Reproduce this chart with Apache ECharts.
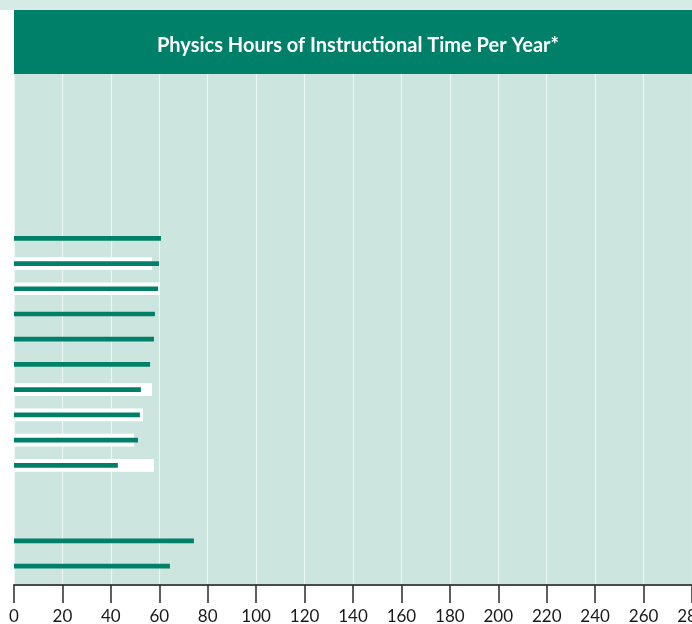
<!DOCTYPE html>
<html>
<head>
<meta charset="utf-8">
<style>
  html, body { margin: 0; padding: 0; background: #ffffff; }
  #chart { width: 692px; height: 624px; }
</style>
<script src="https://cdn.jsdelivr.net/npm/echarts@6/dist/echarts.min.js"></script>
</head>
<body>
<div id="chart"></div>
<script>
// Rows from top to bottom; the first six rows and rows 17-18 carry no bars.
const rows = ['', '', '', '', '', '', 'r1', 'r2', 'r3', 'r4', 'r5', 'r6', 'r7', 'r8', 'r9', 'r10', 'g1', 'g2', 'r11', 'r12'];

// Hours of instruction per year (green bars)
const hoursMain = [null, null, null, null, null, null,
  60.7, 59.9, 59.5, 58.2, 57.8, 56.2, 52.4, 52.0, 51.2, 42.9,
  null, null, 74.3, 64.4];

// Comparison hours (wide white bars behind)
const hoursRef = [null, null, null, null, null, null,
  null, 57.0, 60.3, null, null, null, 57.0, 53.3, 49.6, 57.8,
  null, null, null, null];

const xTicks = { min: 0, max: 280, step: 20 };
const titleText = 'Physics Hours of Instructional Time Per Year*';

const GREEN = '#008068';
const PLOT_BG = '#cce6df';

const chart = echarts.init(document.getElementById('chart'), null, { renderer: 'canvas' });

chart.setOption({
  animation: false,
  backgroundColor: '#ffffff',
  title: {
    text: titleText,
    left: 353,
    top: 41,
    textAlign: 'center',
    textVerticalAlign: 'middle',
    textStyle: {
      color: '#ffffff',
      fontFamily: 'Lato',
      fontWeight: 'bold',
      fontSize: 20
    }
  },
  graphic: [
    { type: 'rect', shape: { x: 0, y: 0, width: 692, height: 10 }, style: { fill: '#d6ebe5' }, z: -1 },
    { type: 'rect', shape: { x: 14, y: 10, width: 678, height: 64 }, style: { fill: GREEN }, z: -1 }
  ],
  grid: [
    // background grid with the value axis
    { left: 14, right: 0, top: 74, bottom: 39, show: true, backgroundColor: PLOT_BG, borderWidth: 0,
      containLabel: false, outerBoundsMode: 'none' },
    // bar grid
    { left: 14, right: 0, top: 74.4, bottom: 45.2, containLabel: false, outerBoundsMode: 'none' }
  ],
  xAxis: [
    {
      type: 'value',
      gridIndex: 0,
      min: xTicks.min,
      max: xTicks.max,
      interval: xTicks.step,
      axisLine: { show: true, lineStyle: { color: '#4a4a4a', width: 2 } },
      axisTick: { show: true, length: 18, lineStyle: { color: '#2a2a2a', width: 1.5 } },
      axisLabel: {
        show: true,
        margin: 23,
        color: '#1a1a1a',
        fontFamily: 'Lato',
        fontSize: 17,
        showMinLabel: true,
        showMaxLabel: true,
        hideOverlap: false
      },
      splitLine: { show: true, lineStyle: { color: 'rgba(255,255,255,0.65)', width: 1.2 } }
    },
    {
      type: 'value',
      gridIndex: 1,
      min: xTicks.min,
      max: xTicks.max,
      interval: xTicks.step,
      show: false
    }
  ],
  yAxis: [
    { type: 'value', gridIndex: 0, show: false, min: 0, max: 1 },
    { type: 'category', gridIndex: 1, data: rows, inverse: true, show: false },
    { type: 'category', gridIndex: 1, data: rows, inverse: true, show: false }
  ],
  series: [
    {
      type: 'bar',
      xAxisIndex: 1,
      yAxisIndex: 1,
      data: hoursRef,
      barWidth: 12.7,
      itemStyle: { color: '#ffffff' },
      silent: true
    },
    {
      type: 'bar',
      xAxisIndex: 1,
      yAxisIndex: 2,
      data: hoursMain,
      barWidth: 4.7,
      itemStyle: { color: GREEN },
      silent: true
    }
  ]
});
</script>
</body>
</html>
